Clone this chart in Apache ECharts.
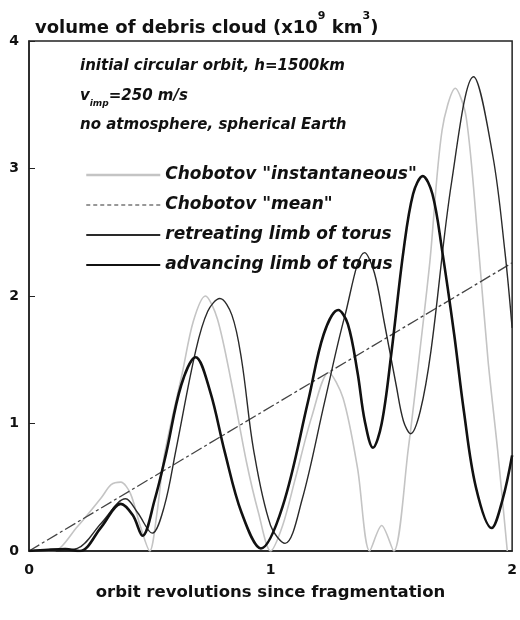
<!DOCTYPE html>
<html>
<head>
<meta charset="utf-8">
<script src="https://cdn.jsdelivr.net/npm/echarts@6/dist/echarts.min.js"></script>
<style>
  html, body { margin: 0; padding: 0; background: #fff; }
  #chart { width: 520px; height: 620px; }
</style>
</head>
<body>
<div id="chart"></div>
<script>
// values: [orbit revolutions, volume x10^9 km^3]
const chobotovInst = [[0,0],[0.1,0],[0.2,0.19],[0.3,0.42],[0.34,0.52],[0.38,0.54],[0.42,0.45],[0.46,0.2],[0.5,0],
  [0.53,0.3],[0.56,0.75],[0.635,1.4],[0.68,1.8],[0.73,2.0],[0.78,1.82],[0.84,1.3],[0.9,0.7],[0.95,0.3],[1.0,0],
  [1.05,0.2],[1.1,0.55],[1.17,1.05],[1.24,1.4],[1.3,1.2],[1.36,0.65],[1.41,0],[1.46,0.2],[1.51,0],
  [1.57,0.8],[1.62,1.6],[1.66,2.28],[1.71,3.3],[1.765,3.63],[1.81,3.4],[1.86,2.4],[1.9,1.5],[1.94,0.79],[1.98,0]]
const chobotovMean = [[0,0],[2,2.26]]
const retreating = [[0,0],[0.1,0],[0.2,0.02],[0.3,0.22],[0.4,0.41],[0.45,0.3],[0.51,0.14],[0.56,0.35],[0.608,0.79],
  [0.69,1.57],[0.74,1.88],[0.79,1.98],[0.84,1.85],[0.88,1.5],[0.93,0.79],[1.0,0.2],[1.06,0.06],[1.13,0.4],
  [1.225,1.18],[1.307,1.84],[1.39,2.34],[1.43,2.18],[1.47,1.8],[1.52,1.3],[1.55,1.02],[1.58,0.92],[1.62,1.1],
  [1.664,1.57],[1.75,2.9],[1.84,3.72],[1.92,3.1],[1.97,2.35],[2.0,1.75]]
const advancing = [[0,0],[0.08,0.01],[0.15,0.015],[0.21,0],[0.3,0.19],[0.38,0.37],[0.43,0.28],[0.47,0.12],
  [0.52,0.4],[0.567,0.76],[0.63,1.3],[0.69,1.52],[0.75,1.25],[0.81,0.78],[0.88,0.3],[0.96,0.02],[1.05,0.35],
  [1.156,1.18],[1.22,1.7],[1.28,1.89],[1.32,1.78],[1.36,1.4],[1.39,1.02],[1.424,0.81],[1.46,1.0],[1.5,1.55],
  [1.55,2.35],[1.59,2.8],[1.63,2.94],[1.67,2.8],[1.71,2.36],[1.76,1.7],[1.8,1.1],[1.85,0.5],[1.915,0.18],
  [1.96,0.4],[2.0,0.75]]
const seriesNames = ['Chobotov "instantaneous"', 'Chobotov "mean"', 'retreating limb of torus', 'advancing limb of torus']
const notes = ['initial circular orbit, h=1500km', '{v|v}{sub|imp}{v|=250 m/s}', 'no atmosphere, spherical Earth']

const font = '"DejaVu Sans", "Liberation Sans", sans-serif'
const chart = echarts.init(document.getElementById('chart'))

chart.setOption({
  animation: false,
  title: {
    text: '{a|volume of debris cloud (x10}{s|9}{a| km}{s|3}{a|)}',
    left: 30,
    top: 6,
    textStyle: {
      rich: {
        a: { fontFamily: font, fontWeight: 'bold', fontSize: 18, color: '#111', lineHeight: 26, verticalAlign: 'bottom' },
        s: { fontFamily: font, fontWeight: 'bold', fontSize: 11, color: '#111', lineHeight: 26, verticalAlign: 'top' }
      }
    }
  },
  grid: { left: 29, right: 4, top: 41, bottom: 69, show: true, borderColor: '#222', borderWidth: 1.5 },
  legend: {
    orient: 'vertical',
    left: 80,
    top: 160,
    itemWidth: 74,
    itemHeight: 14,
    itemGap: 10,
    itemStyle: { color: 'transparent', borderWidth: 0, opacity: 0 },
    textStyle: { fontFamily: font, fontStyle: 'italic', fontWeight: 'bold', fontSize: 17, color: '#111', lineHeight: 20 },
    data: [
      { name: seriesNames[0], lineStyle: { width: 2.5 } },
      { name: seriesNames[1], lineStyle: { type: [4, 3], width: 1.2, color: '#333' } },
      { name: seriesNames[2] },
      { name: seriesNames[3] }
    ]
  },
  graphic: notes.map((t, i) => ({
    type: 'text',
    left: 80,
    top: 59 + i * 29.5,
    style: {
      text: t,
      fill: '#111',
      font: 'italic bold 15px ' + font,
      rich: {
        v: { fontFamily: font, fontStyle: 'italic', fontWeight: 'bold', fontSize: 15, lineHeight: 20, verticalAlign: 'top' },
        sub: { fontFamily: font, fontStyle: 'italic', fontWeight: 'bold', fontSize: 9, lineHeight: 20, verticalAlign: 'bottom' }
      }
    }
  })),
  xAxis: {
    type: 'value',
    min: 0,
    max: 2,
    interval: 1,
    name: 'orbit revolutions since fragmentation',
    nameLocation: 'middle',
    nameGap: 33,
    nameTextStyle: { fontFamily: font, fontWeight: 'bold', fontSize: 16.5, color: '#111' },
    axisLine: { lineStyle: { color: '#222', width: 1.5 } },
    axisTick: { show: false },
    axisLabel: { margin: 12, fontFamily: font, fontWeight: 'bold', fontSize: 14, color: '#111' },
    splitLine: { show: false }
  },
  yAxis: {
    type: 'value',
    min: 0,
    max: 4,
    interval: 1,
    axisLine: { show: true, lineStyle: { color: '#222', width: 1.5 } },
    axisTick: { show: true, inside: true, length: 6, lineStyle: { color: '#222' } },
    axisLabel: { margin: 10, fontFamily: font, fontWeight: 'bold', fontSize: 14, color: '#111' },
    splitLine: { show: false }
  },
  series: [
    { name: seriesNames[0], type: 'line', data: chobotovInst, smooth: 0.3, symbol: 'none',
      lineStyle: { color: '#c4c4c4', width: 1.6 }, itemStyle: { color: '#c4c4c4' } },
    { name: seriesNames[1], type: 'line', data: chobotovMean, symbol: 'none',
      lineStyle: { color: '#444', width: 1.3, type: [12, 3, 3, 3] }, itemStyle: { color: '#444' } },
    { name: seriesNames[2], type: 'line', data: retreating, smooth: 0.35, symbol: 'none',
      lineStyle: { color: '#2a2a2a', width: 1.4 }, itemStyle: { color: '#2a2a2a' } },
    { name: seriesNames[3], type: 'line', data: advancing, smooth: 0.35, symbol: 'none',
      lineStyle: { color: '#111', width: 2.6 }, itemStyle: { color: '#111' } }
  ]
})
</script>
</body>
</html>
